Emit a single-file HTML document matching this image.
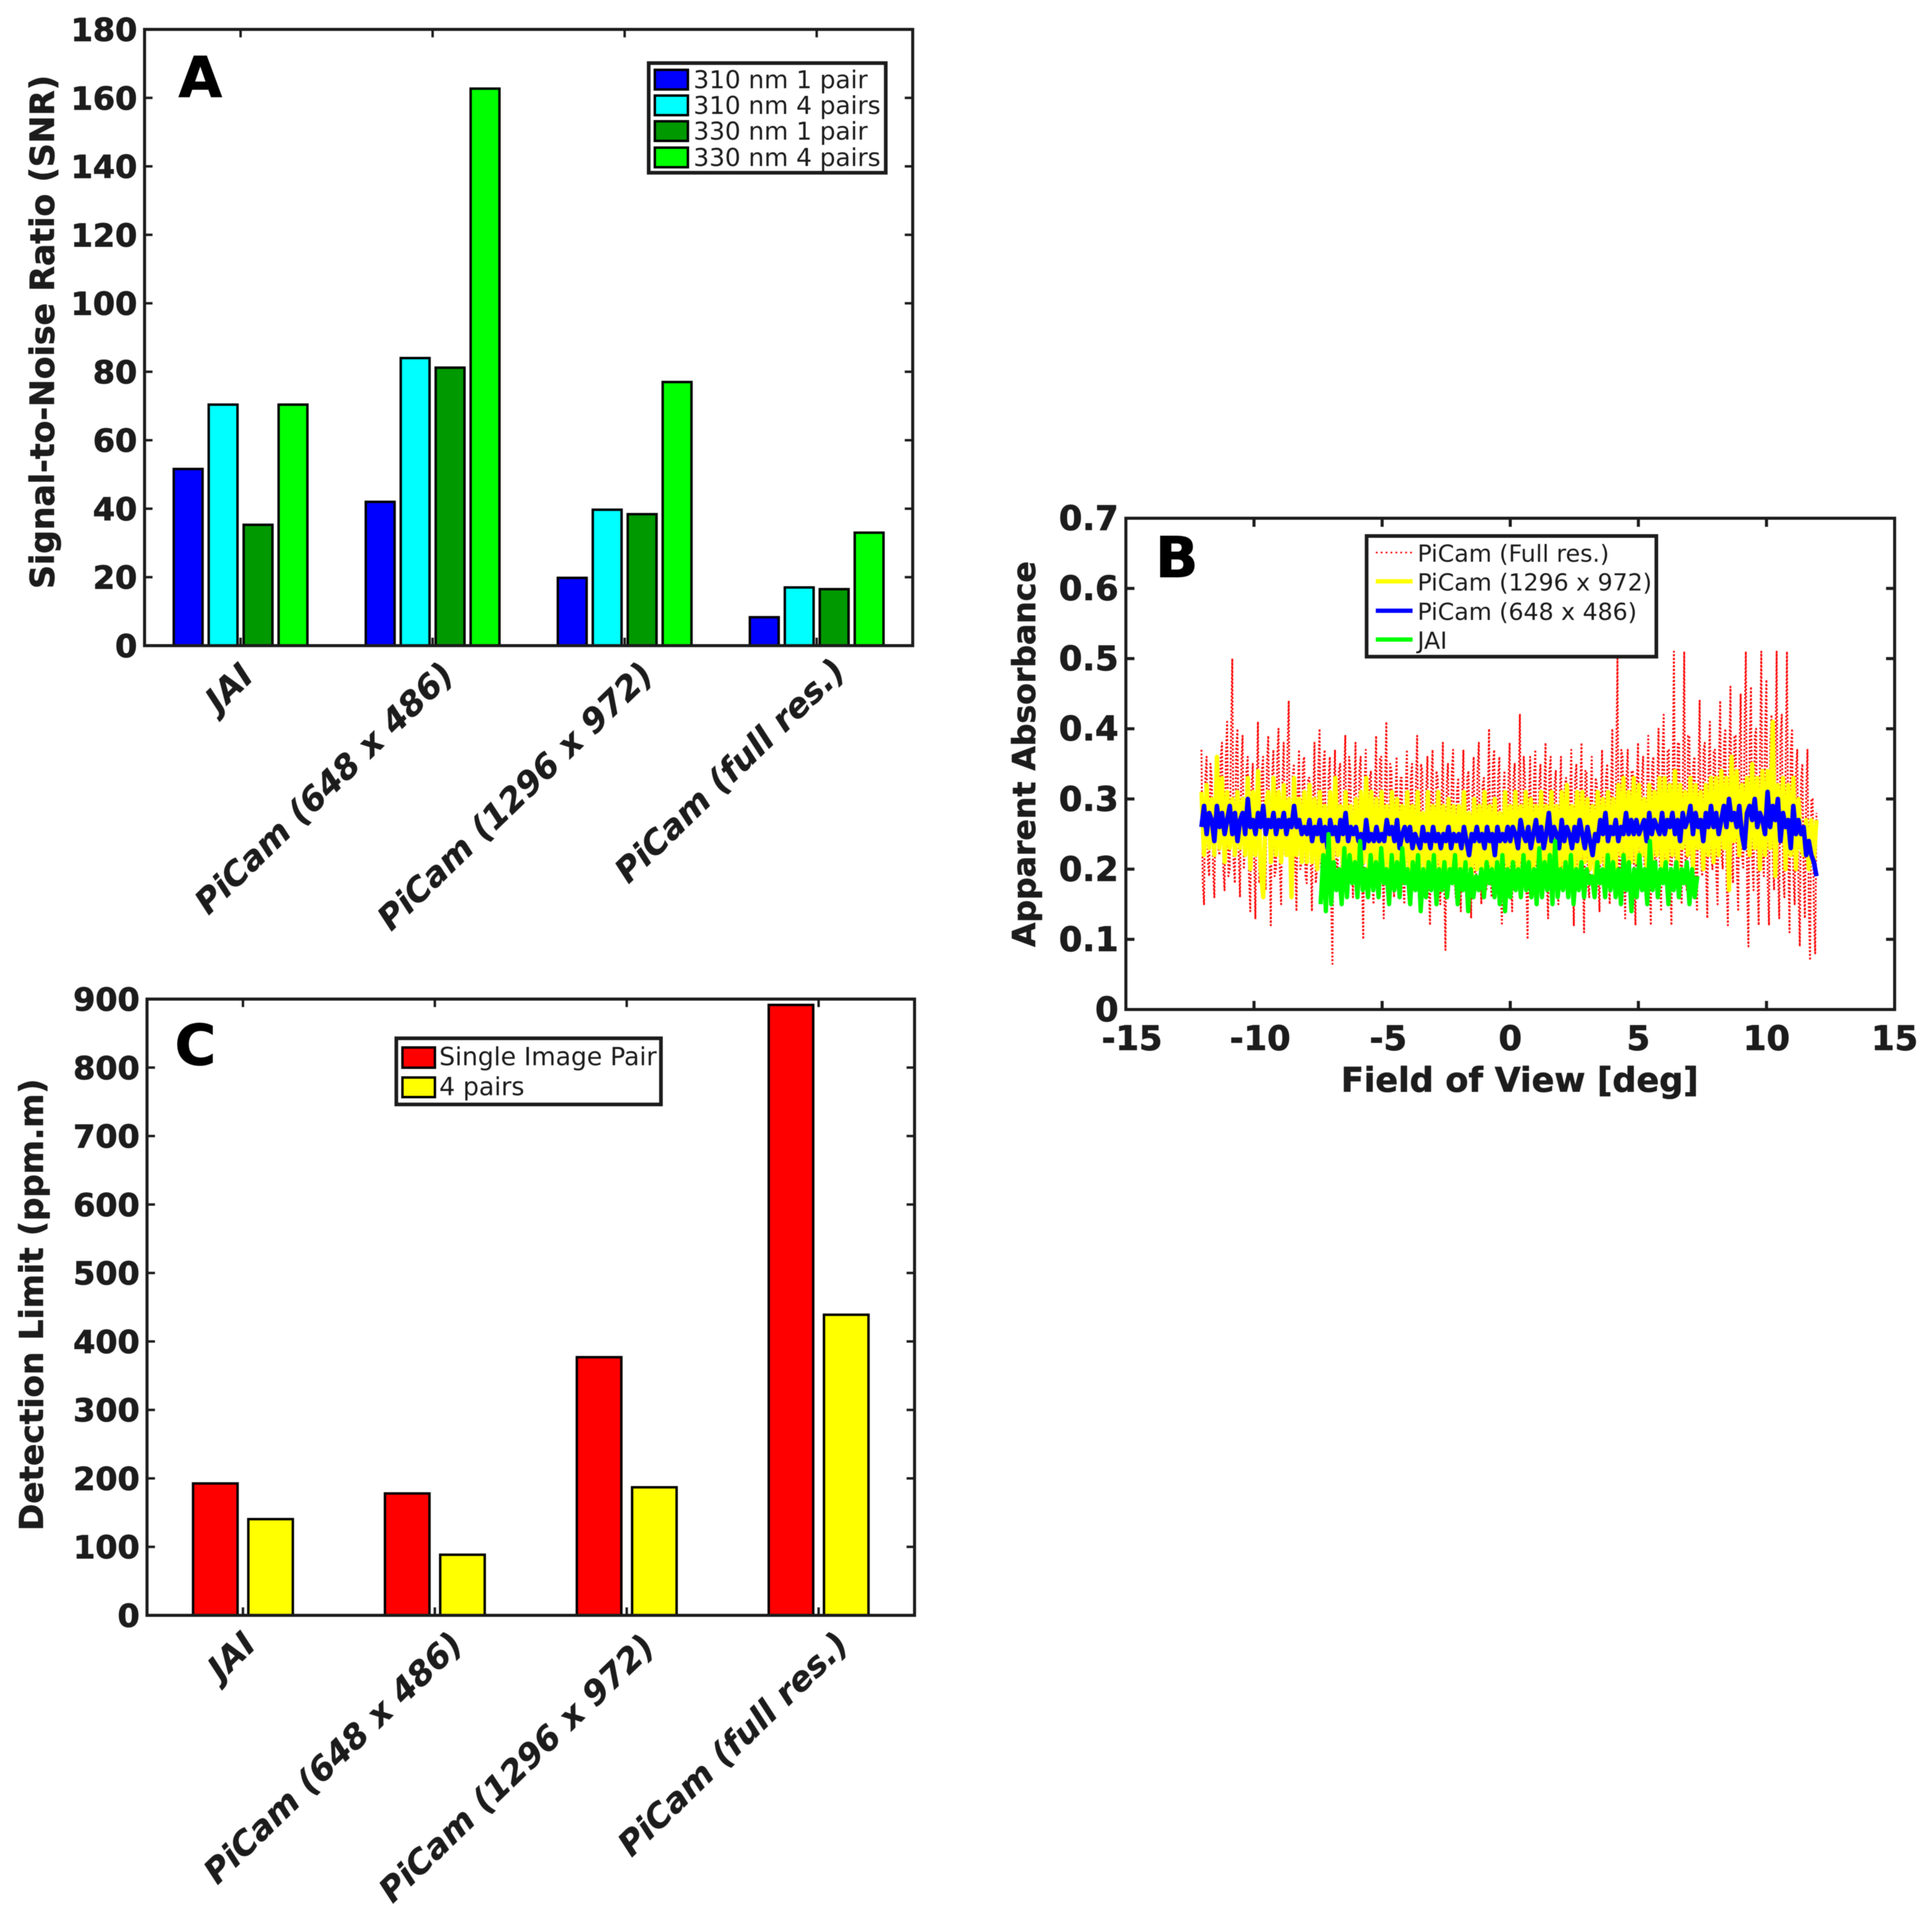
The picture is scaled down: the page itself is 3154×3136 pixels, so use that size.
<!DOCTYPE html>
<html lang="en">
<head>
<meta charset="utf-8">
<title>SNR, apparent absorbance and detection limit comparison</title>
<style>
html,body{margin:0;padding:0;background:#fff;}
svg{display:block;filter:blur(0.6px);}
text{font-family:"DejaVu Sans","Liberation Sans",sans-serif;fill:#1c1c1c;}
.tick{font-weight:700;font-size:52px;stroke:#1c1c1c;stroke-width:1px;}
.tick-b{font-size:55px;}
.axis-title{font-weight:700;font-size:54px;stroke:#1c1c1c;stroke-width:.8px;}
.cat{font-weight:700;font-style:italic;font-size:54.5px;stroke:#1c1c1c;stroke-width:.4px;}
.leg{font-size:40.4px;}
.leg-b{font-size:38.6px;}
.leg-c{font-size:40.8px;}
.letter{font-weight:700;font-size:92px;fill:#000;stroke:#000;stroke-width:1px;}
</style>
</head>
<body>
<svg id="fig" xmlns="http://www.w3.org/2000/svg" width="3154" height="3136" viewBox="0 0 3154 3136">
  <rect x="0" y="0" width="3154" height="3136" fill="#fff"/>
  <g id="panelA"></g>
  <g id="panelB"></g>
  <g id="panelC"></g>

  <text class="axis-title" transform="translate(88,542) rotate(-90)" text-anchor="middle">Signal-to-Noise Ratio (SNR)</text>
  <text class="axis-title" style="font-size:51.5px" transform="translate(1690,1231) rotate(-90)" text-anchor="middle">Apparent Absorbance</text>
  <text class="axis-title" style="font-size:54.8px" x="2481" y="1782" text-anchor="middle">Field of View [deg]</text>
  <text class="axis-title" style="font-size:53.4px" transform="translate(70,2130) rotate(-90)" text-anchor="middle">Detection Limit (ppm.m)</text>

  <text class="letter" x="327" y="158" text-anchor="middle">A</text>
  <text class="letter" x="1921" y="942" text-anchor="middle">B</text>
  <text class="letter" x="319" y="1738" text-anchor="middle">C</text>

  <g id="legendA">
    <rect x="1059" y="103" width="387" height="179" fill="#fff" stroke="#1c1c1c" stroke-width="6"/>
    <rect x="1069" y="114" width="54" height="32" fill="#0000ff" stroke="#000" stroke-width="4"/>
    <rect x="1069" y="156" width="54" height="32" fill="#00ffff" stroke="#000" stroke-width="4"/>
    <rect x="1069" y="198" width="54" height="32" fill="#009900" stroke="#000" stroke-width="4"/>
    <rect x="1069" y="241" width="54" height="32" fill="#00ff00" stroke="#000" stroke-width="4"/>
    <text class="leg" x="1132" y="144">310 nm 1 pair</text>
    <text class="leg" x="1132" y="186">310 nm 4 pairs</text>
    <text class="leg" x="1132" y="228">330 nm 1 pair</text>
    <text class="leg" x="1132" y="271">330 nm 4 pairs</text>
  </g>

  <g id="legendC">
    <rect x="647" y="1695" width="432" height="108" fill="#fff" stroke="#1c1c1c" stroke-width="6"/>
    <rect x="657" y="1710" width="53" height="33" fill="#ff0000" stroke="#000" stroke-width="4"/>
    <rect x="657" y="1759" width="53" height="32" fill="#ffff00" stroke="#000" stroke-width="4"/>
    <text class="leg leg-c" x="717" y="1739">Single Image Pair</text>
    <text class="leg leg-c" x="717" y="1788">4 pairs</text>
  </g>
</svg>

<script>
/* ---------- Panel A data ---------- */
const categoriesBar = ["JAI", "PiCam (648 x 486)", "PiCam (1296 x 972)", "PiCam (full res.)"];
const snr310One  = [51.6, 42, 19.8, 8.3];
const snr310Four = [70.4, 84, 39.7, 17];
const snr330One  = [35.3, 81.2, 38.4, 16.5];
const snr330Four = [70.4, 162.7, 77, 33];
const ticksASnr  = [0, 20, 40, 60, 80, 100, 120, 140, 160, 180];

/* ---------- Panel C data ---------- */
const limitSingle = [192.6, 178, 377, 891.5];
const limitFour   = [140.5, 88.5, 187, 439];
const ticksCLimit = [0, 100, 200, 300, 400, 500, 600, 700, 800, 900];

/* ---------- Panel B data ---------- */
const ticksBX = [-15, -10, -5, 0, 5, 10, 15];
const ticksBY = [0, 0.1, 0.2, 0.3, 0.4, 0.5, 0.6, 0.7];
const picamRange = [-12.05, 11.95];
const jaiRange = [-7.4, 7.3];
const picamFull = [
.37,.18,.15,.33,.36,.21,.19,.35,.33,.2,.16,.31,.34,.23,.22,.36,.38,.2,.17,.36,.41,.19,.2,.39,.5,.21,.18,.37,.40,.22,.16,.35,.39,.2,.24,.34,.36,.19,.14,.32,
.35,.22,.13,.31,.41,.18,.2,.34,.36,.21,.17,.35,.39,.23,.12,.33,.37,.19,.2,.36,.40,.2,.15,.32,.38,.22,.22,.37,.44,.18,.16,.33,.35,.21,.14,.31,.37,.2,.21,.35,
.36,.19,.18,.33,.33,.22,.14,.3,.38,.18,.2,.34,.40,.21,.17,.35,.37,.2,.15,.33,.36,.16,.065,.31,.37,.21,.19,.34,.35,.2,.15,.33,.39,.19,.2,.36,.34,.22,.16,.31,
.38,.2,.18,.34,.36,.19,.10,.32,.37,.22,.2,.33,.34,.18,.15,.31,.39,.21,.17,.36,.36,.2,.13,.32,.41,.19,.2,.35,.34,.22,.16,.3,.36,.2,.19,.33,.33,.18,.15,.31,
.37,.21,.17,.33,.35,.19,.2,.32,.39,.2,.14,.35,.34,.21,.19,.31,.36,.18,.12,.33,.37,.2,.21,.34,.33,.19,.15,.3,.38,.18,.085,.32,.35,.21,.2,.34,.37,.19,.16,.31,
.33,.2,.14,.3,.37,.18,.2,.33,.34,.21,.13,.31,.36,.19,.19,.34,.38,.2,.15,.32,.33,.18,.17,.3,.40,.2,.16,.35,.37,.21,.2,.33,.36,.18,.12,.31,.34,.2,.18,.32,
.38,.19,.14,.33,.35,.2,.19,.31,.42,.21,.17,.36,.33,.18,.10,.3,.36,.2,.2,.33,.37,.19,.15,.32,.35,.21,.18,.31,.38,.18,.13,.34,.36,.2,.2,.32,.34,.19,.15,.3,
.36,.2,.17,.32,.33,.18,.19,.3,.37,.21,.12,.33,.35,.19,.2,.31,.38,.2,.11,.34,.34,.18,.16,.3,.36,.21,.2,.33,.32,.19,.14,.3,.37,.2,.18,.33,.35,.19,.15,.31,
.40,.2,.16,.35,.5,.19,.19,.37,.36,.21,.13,.33,.37,.2,.2,.34,.34,.18,.12,.32,.38,.21,.17,.33,.36,.2,.2,.31,.39,.19,.12,.35,.36,.21,.18,.32,.40,.2,.14,.36,
.42,.21,.2,.37,.37,.19,.12,.33,.51,.22,.18,.38,.38,.2,.15,.34,.51,.19,.17,.39,.39,.22,.2,.35,.36,.18,.14,.33,.44,.21,.19,.37,.38,.2,.13,.34,.41,.22,.2,.37,
.37,.19,.15,.35,.44,.22,.2,.38,.40,.18,.12,.35,.46,.21,.18,.39,.39,.2,.14,.36,.45,.22,.2,.4,.51,.17,.09,.38,.46,.21,.17,.39,.40,.19,.12,.36,.51,.22,.19,.4,
.47,.18,.12,.38,.42,.21,.17,.36,.51,.2,.13,.39,.42,.19,.16,.35,.51,.22,.11,.37,.40,.19,.15,.34,.37,.17,.09,.33,.35,.19,.13,.31,.37,.15,.07,.3,.30,.14,.08,.28];
const picamMid = [
.31,.22,.32,.23,.3,.22,.36,.23,.33,.21,.31,.23,.3,.22,.31,.23,.30,.22,.33,.2,
.31,.22,.34,.2,.16,.29,.31,.21,.33,.22,.31,.21,.32,.22,.3,.16,.33,.22,.3,.21,
.31,.21,.32,.21,.3,.2,.31,.21,.29,.19,.31,.21,.33,.22,.29,.2,.31,.21,.29,.2,
.3,.19,.31,.21,.33,.2,.31,.2,.3,.19,.31,.2,.29,.19,.31,.2,.3,.2,.29,.2,
.31,.2,.29,.18,.31,.2,.28,.2,.31,.19,.29,.2,.31,.2,.29,.19,.3,.2,.29,.2,
.29,.19,.31,.2,.28,.19,.3,.2,.29,.18,.31,.2,.29,.19,.3,.2,.28,.19,.31,.2,
.29,.19,.31,.2,.29,.2,.31,.19,.3,.2,.29,.2,.31,.19,.29,.2,.31,.2,.29,.19,
.31,.2,.32,.19,.29,.2,.31,.2,.31,.21,.3,.2,.29,.19,.31,.21,.3,.2,.31,.2,
.3,.2,.32,.22,.33,.2,.31,.21,.33,.21,.32,.22,.3,.2,.32,.21,.31,.22,.33,.2,
.33,.21,.32,.22,.34,.2,.32,.23,.31,.22,.33,.2,.32,.23,.31,.2,.32,.22,.33,.21,
.33,.22,.34,.23,.33,.17,.36,.24,.34,.22,.32,.23,.33,.22,.35,.23,.33,.2,.34,.22,
.34,.23,.41,.19,.32,.24,.33,.2,.32,.22,.33,.2,.3,.23,.22,.27,.2,.27,.21,.27];
const picamLow = [
.26,.29,.25,.28,.27,.24,.29,.26,.28,.25,.27,.29,.25,.28,.24,.27,.28,.25,.3,.26,
.27,.25,.28,.26,.29,.25,.27,.26,.28,.25,.27,.26,.28,.25,.27,.26,.29,.26,.27,.25,
.26,.25,.27,.24,.26,.25,.27,.24,.26,.23,.27,.25,.26,.24,.27,.25,.28,.24,.26,.25,
.26,.24,.25,.23,.27,.24,.25,.24,.26,.24,.25,.24,.27,.25,.26,.24,.27,.23,.25,.26,
.24,.26,.23,.25,.24,.23,.26,.24,.25,.23,.26,.24,.25,.23,.25,.24,.26,.23,.25,.24,
.25,.23,.26,.24,.22,.25,.24,.26,.24,.25,.23,.26,.24,.25,.22,.26,.24,.25,.24,.26,
.24,.26,.25,.23,.27,.25,.24,.26,.23,.25,.27,.24,.26,.23,.25,.28,.24,.26,.25,.23,
.27,.24,.26,.25,.23,.26,.24,.27,.25,.23,.26,.24,.22,.25,.24,.27,.25,.28,.24,.26,
.25,.27,.24,.26,.25,.28,.25,.27,.25,.27,.25,.26,.27,.24,.28,.25,.27,.26,.25,.28,
.25,.27,.26,.28,.25,.27,.24,.28,.26,.27,.29,.25,.28,.26,.27,.24,.28,.26,.29,.26,
.28,.25,.27,.29,.26,.3,.27,.28,.26,.29,.25,.23,.28,.29,.27,.3,.26,.28,.27,.25,
.31,.26,.29,.27,.3,.24,.28,.26,.27,.23,.29,.25,.27,.25,.26,.22,.24,.22,.21,.19];
const jaiSeries = [
.15,.22,.14,.25,.15,.21,.17,.2,.15,.23,.16,.22,.18,.21,.16,.24,.17,.2,.16,.22,
.17,.21,.16,.23,.18,.2,.15,.22,.17,.21,.16,.23,.18,.2,.15,.21,.17,.22,.14,.2,
.16,.21,.17,.22,.15,.2,.17,.21,.16,.2,.18,.22,.15,.2,.17,.21,.14,.2,.16,.19,
.17,.2,.16,.21,.18,.2,.16,.21,.15,.22,.14,.2,.16,.21,.17,.2,.16,.22,.17,.21,
.16,.2,.15,.23,.16,.21,.17,.22,.15,.24,.16,.2,.17,.21,.16,.22,.15,.2,.17,.21,
.16,.2,.18,.19,.16,.21,.18,.2,.16,.22,.17,.21,.16,.2,.15,.22,.17,.21,.14,.2,
.16,.22,.17,.2,.15,.24,.17,.21,.16,.2,.18,.21,.15,.2,.17,.21,.16,.2,.18,.21,.15,.2,.16,.19];

const SVGNS = "http://www.w3.org/2000/svg";
const INK = "#1c1c1c";

function make(parent, tag, attrs, content) {
  const node = document.createElementNS(SVGNS, tag);
  for (const k in attrs) node.setAttribute(k, attrs[k]);
  if (content !== undefined) node.textContent = content;
  parent.appendChild(node);
  return node;
}
function linear(d0, d1, r0, r1) {
  return v => r0 + (v - d0) * (r1 - r0) / (d1 - d0);
}

/* Axes geometry */
const boxA = {l: 236, r: 1490, t: 48, b: 1054};
const boxB = {l: 1838, r: 3093, t: 846, b: 1648};
const boxC = {l: 240, r: 1493, t: 1631, b: 2637};

function drawTicks(g, box, xs, ys, xf, yf, len, w) {
  xs.forEach(v => {
    const bot = make(g, "line", {x1: xf(v), x2: xf(v), y1: box.b, y2: box.b - len, stroke: INK, "stroke-width": w});
    
    
    const top = make(g, "line", {x1: xf(v), x2: xf(v), y1: box.t, y2: box.t + len, stroke: INK, "stroke-width": w});
    
    
  });
  ys.forEach(v => {
    const lft = make(g, "line", {x1: box.l, x2: box.l + len, y1: yf(v), y2: yf(v), stroke: INK, "stroke-width": w});
    
    
    const rgt = make(g, "line", {x1: box.r, x2: box.r - len, y1: yf(v), y2: yf(v), stroke: INK, "stroke-width": w});
    
    
  });
}
function drawYLabels(g, box, ys, yf, fmt, cls) {
  ys.forEach(v => {
    const t = make(g, "text", {class: cls, x: box.l - 12, y: yf(v) + 19, "text-anchor": "end"}, fmt(v));
    
    
  });
}
function drawFrame(g, box) {
  const f = make(g, "rect", {x: box.l, y: box.t, width: box.r - box.l, height: box.b - box.t, fill: "none", stroke: INK, "stroke-width": 5});
  
  
}
function drawCategories(g, box, xf, names, dxFor, dyFor) {
  names.forEach((name, i) => {
    const t = make(g, "text", {class: "cat", "text-anchor": "end",
      transform: "translate(" + (xf(i + 1) + dxFor(i)) + "," + (box.b + dyFor(i)) + ") rotate(-44)"}, name);
    
    
  });
}
function drawBars(g, box, xf, yf, values, offset, width, color, name) {
  values.forEach((v, i) => {
    const x0 = xf(i + 1 + offset - width / 2);
    const x1 = xf(i + 1 + offset + width / 2);
    const r = make(g, "rect", {x: x0, y: yf(v), width: x1 - x0, height: box.b - yf(v), fill: color, stroke: "#000", "stroke-width": 4});
    
    
  });
}

/* ---------- Panel A ---------- */
(function () {
  const g = document.getElementById("panelA");
  const xf = linear(0.5, 4.5, boxA.l, boxA.r);
  const yf = linear(0, 180, boxA.b, boxA.t);
  drawTicks(g, boxA, [1, 2, 3, 4], ticksASnr, xf, yf, 13, 4);
  drawBars(g, boxA, xf, yf, snr310One, -0.273, 0.15, "#0000ff", "bar-310nm-1-pair");
  drawBars(g, boxA, xf, yf, snr310Four, -0.091, 0.15, "#00ffff", "bar-310nm-4-pairs");
  drawBars(g, boxA, xf, yf, snr330One, 0.091, 0.15, "#009900", "bar-330nm-1-pair");
  drawBars(g, boxA, xf, yf, snr330Four, 0.273, 0.15, "#00ff00", "bar-330nm-4-pairs");
  drawFrame(g, boxA);
  drawYLabels(g, boxA, ticksASnr, yf, v => String(v), "tick");
  const dxA = i => (i === 0 ? 24 : i === 1 ? 38 : 50);
  const dyA = i => (i === 3 ? 45 : i === 0 ? 53 : 51);
  drawCategories(g, boxA, xf, categoriesBar, dxA, dyA);
})();

/* ---------- Panel C ---------- */
(function () {
  const g = document.getElementById("panelC");
  const xf = linear(0.5, 4.5, boxC.l, boxC.r);
  const yf = linear(0, 900, boxC.b, boxC.t);
  drawTicks(g, boxC, [1, 2, 3, 4], ticksCLimit, xf, yf, 13, 4);
  drawBars(g, boxC, xf, yf, limitSingle, -0.144, 0.232, "#ff0000", "bar-single-image-pair");
  drawBars(g, boxC, xf, yf, limitFour, 0.144, 0.232, "#ffff00", "bar-4-pairs");
  drawFrame(g, boxC);
  drawYLabels(g, boxC, ticksCLimit, yf, v => String(v), "tick");
  const dxC = i => (i === 0 ? 24 : i === 3 ? 52 : 49);
  const dyC = i => (i === 2 ? 55 : 51);
  drawCategories(g, boxC, xf, categoriesBar, dxC, dyC);
})();

/* ---------- Panel B ---------- */
(function () {
  const g = document.getElementById("panelB");
  const xf = linear(-15, 15, boxB.l, boxB.r);
  const yf = linear(0, 0.7, boxB.b, boxB.t);
  function series(values, range, color, width, dash, name) {
    const step = (range[1] - range[0]) / (values.length - 1);
    const pts = values.map((v, i) => xf(range[0] + i * step).toFixed(1) + "," + yf(v).toFixed(1)).join(" ");
    const attrs = {points: pts, fill: "none", stroke: color, "stroke-width": width, "stroke-linejoin": "round"};
    if (dash) attrs["stroke-dasharray"] = dash;
    const p = make(g, "polyline", attrs);
    
    
  }
  series(picamFull, picamRange, "#ff0000", 3, "3 3", "line-picam-full-res");
  series(picamMid, picamRange, "#ffff00", 7, null, "line-picam-1296");
  series(picamLow, picamRange, "#0000ff", 7.5, null, "line-picam-648");
  series(jaiSeries, jaiRange, "#00ff00", 7, null, "line-jai");
  drawTicks(g, boxB, ticksBX, ticksBY, xf, yf, 14, 5);
  drawFrame(g, boxB);
  drawYLabels(g, boxB, ticksBY, yf, v => v === 0 ? "0" : v.toFixed(1), "tick tick-b");
  ticksBX.forEach(v => {
    const shift = v < 0 ? 10 : 0;
    const t = make(g, "text", {class: "tick tick-b", x: xf(v) + shift, y: boxB.b + 66, "text-anchor": "middle"}, String(v));
    
    
  });

  /* Legend */
  const lg = make(g, "g", {});
  
  
  const frame = make(lg, "rect", {x: 2231, y: 875, width: 473, height: 197, fill: "#fff", stroke: INK, "stroke-width": 6});
  
  
  const s1 = make(lg, "line", {x1: 2246, x2: 2306, y1: 902, y2: 902, stroke: "#ff0000", "stroke-width": 2.5, "stroke-dasharray": "3 5"});
  
  
  const s2 = make(lg, "line", {x1: 2246, x2: 2306, y1: 949, y2: 949, stroke: "#ffff00", "stroke-width": 7});
  
  
  const s3 = make(lg, "line", {x1: 2246, x2: 2306, y1: 997, y2: 997, stroke: "#0000ff", "stroke-width": 7});
  
  
  const s4 = make(lg, "line", {x1: 2246, x2: 2306, y1: 1044, y2: 1044, stroke: "#00ff00", "stroke-width": 7});
  
  
  const t1 = make(lg, "text", {class: "leg leg-b", x: 2314, y: 917}, "PiCam (Full res.)");
  
  
  const t2 = make(lg, "text", {class: "leg leg-b", x: 2314, y: 964}, "PiCam (1296 x 972)");
  
  
  const t3 = make(lg, "text", {class: "leg leg-b", x: 2314, y: 1012}, "PiCam (648 x 486)");
  
  
  const t4 = make(lg, "text", {class: "leg leg-b", x: 2314, y: 1059}, "JAI");
  
  
})();
</script>
</body>
</html>
